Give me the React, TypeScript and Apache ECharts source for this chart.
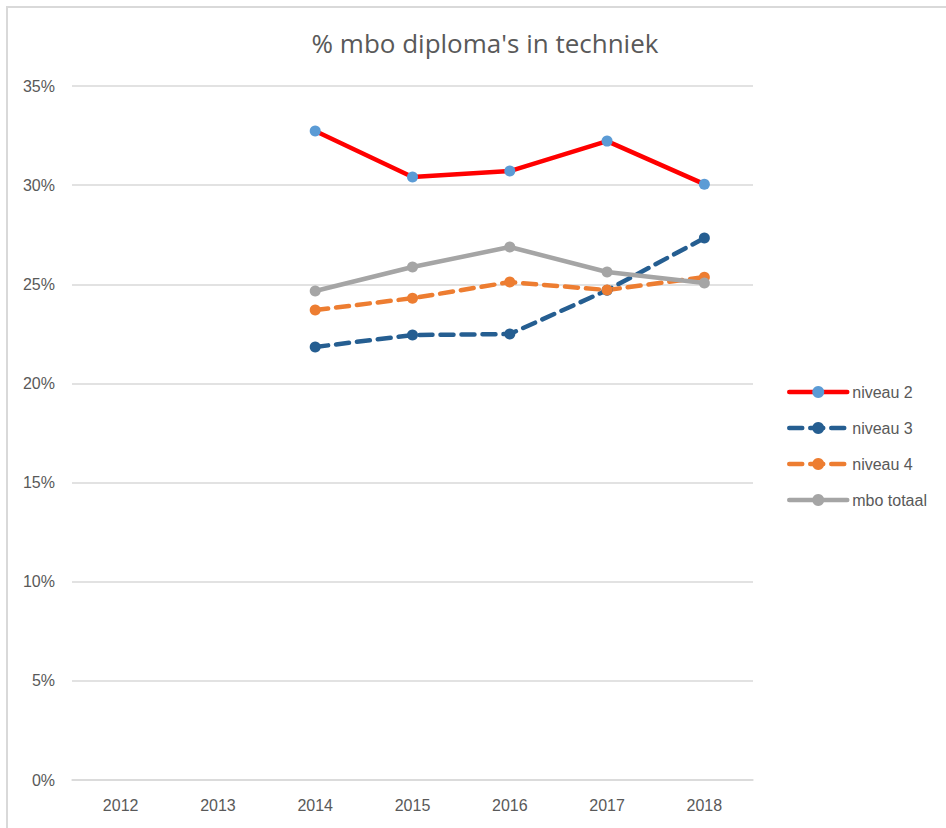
import React, { useEffect, useRef } from "react";
import * as echarts from "echarts";

const years = ["2012", "2013", "2014", "2015", "2016", "2017", "2018"];
const niveau2 = [null, null, 32.73, 30.41, 30.71, 32.22, 30.05];
const niveau3 = [null, null, 21.84, 22.44, 22.49, 24.7, 27.33];
const niveau4 = [null, null, 23.7, 24.3, 25.11, 24.71, 25.36];
const mboTotaal = [null, null, 24.66, 25.87, 26.88, 25.62, 25.06];
const seriesNames = ["niveau 2", "niveau 3", "niveau 4", "mbo totaal"];

const FONT = "'Liberation Sans', Arial, sans-serif";
const TITLE_FONT = "'Open Sans', sans-serif";
const TXT = "#595959";

export default function App() {
  const ref = useRef<HTMLDivElement>(null);
  useEffect(() => {
    document.body.style.margin = "0";
    const chart = echarts.init(ref.current!, null, { renderer: "svg" });
    const mk = (name: string, data: any[], lineColor: string, markColor: string, dashed: boolean) => ({
      name,
      type: "line",
      data,
      symbol: "circle",
      symbolSize: 11,
      connectNulls: false,
      itemStyle: { color: markColor },
      lineStyle: { color: lineColor, width: 4.5, type: dashed ? [13, 8] : "solid", cap: "round" },
      emphasis: { disabled: true },
    });
    chart.setOption({
      animation: false,
      textStyle: { fontFamily: FONT },
      title: {
        text: "% mbo diploma's in techniek",
        left: 480,
        textAlign: "center",
        top: 25,
        textStyle: { color: TXT, fontSize: 26, fontWeight: "normal", fontFamily: TITLE_FONT },
      },
      graphic: [
        { type: "line", shape: { x1: 6, y1: 7, x2: 946, y2: 7 }, style: { stroke: "#D9D9D9", lineWidth: 2 } },
        { type: "line", shape: { x1: 7, y1: 6, x2: 7, y2: 828 }, style: { stroke: "#D9D9D9", lineWidth: 2 } },
      ],
      legend: {
        orient: "vertical",
        left: 782,
        top: 379,
        itemWidth: 58,
        itemHeight: 15,
        itemGap: 20,
        data: seriesNames,
        lineStyle: { width: "inherit" },
        textStyle: { color: TXT, fontSize: 16, fontFamily: FONT },
      },
      grid: { left: 72, right: 193, top: 86, bottom: 48 },
      xAxis: {
        type: "category",
        data: years,
        boundaryGap: true,
        axisLine: { lineStyle: { color: "#D9D9D9", width: 1.5 } },
        axisTick: { show: false },
        axisLabel: { color: TXT, fontSize: 16, margin: 17, fontFamily: FONT },
      },
      yAxis: {
        type: "value",
        min: 0,
        max: 35,
        interval: 5,
        axisLine: { show: false },
        axisTick: { show: false },
        splitLine: { lineStyle: { color: "#D9D9D9", width: 1.5 } },
        axisLabel: { color: TXT, fontSize: 16, margin: 17, formatter: "{value}%", fontFamily: FONT },
      },
      series: [
        mk("niveau 2", niveau2, "#FF0000", "#5B9BD5", false),
        mk("niveau 3", niveau3, "#255E91", "#255E91", true),
        mk("niveau 4", niveau4, "#ED7D31", "#ED7D31", true),
        mk("mbo totaal", mboTotaal, "#A5A5A5", "#A5A5A5", false),
      ],
    });
    return () => chart.dispose();
  }, []);
  return <div ref={ref} style={{ position: "absolute", left: 0, top: 0, width: 946, height: 828 }} />;
}
